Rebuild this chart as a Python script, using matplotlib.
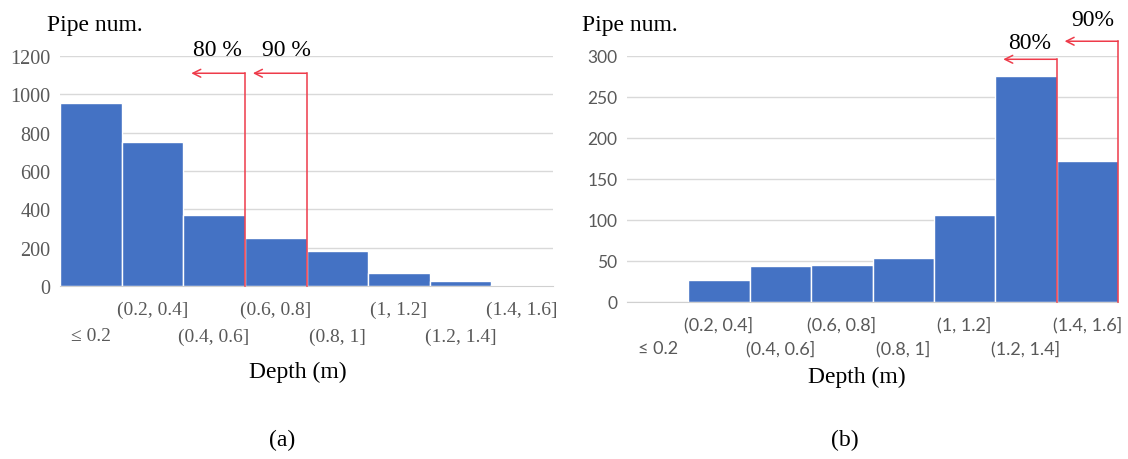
import matplotlib.pyplot as plt

# 数据
bins = ['≤ 0.2', '(0.2, 0.4]', '(0.4, 0.6]', '(0.6, 0.8]', '(0.8, 1]',
        '(1, 1.2]', '(1.2, 1.4]', '(1.4, 1.6]']
pipes_a = [955, 753, 370, 252, 183, 68, 26, 4]
pipes_b = [0, 27, 44, 45, 54, 106, 275, 172]

# 80% / 90% 分界 (bin index of the boundary's right-hand bar)
cut_a = {'80 %': 3, '90 %': 4}
cut_b = {'80%': 7, '90%': 8}

BLUE = '#4472C4'
RED = '#EE3B4A'
GREY = '#595959'
SERIF = 'Liberation Serif'
SANS = 'Lato'

fig = plt.figure(figsize=(11.28, 4.6), dpi=100)
ax1 = fig.add_axes([60/1128, 1-287/460, 493/1128, 230/460])
ax2 = fig.add_axes([627/1128, 1-303/460, 491/1128, 246/460])


def draw(ax, vals, ymax, ystep, tickfont, ysize, xsize, rows, cuts, arr_y, txt_y, txt_off):
    x = range(len(vals))
    ax.bar(x, vals, width=1.0, color=BLUE, edgecolor='white', linewidth=1, zorder=2)
    ax.set_xlim(-0.5, len(vals) - 0.5)
    ax.set_ylim(0, ymax)
    ax.set_yticks(range(0, ymax + 1, ystep))
    ax.grid(axis='y', color='#D9D9D9', linewidth=1, zorder=0)
    for s in ['top', 'right', 'left']:
        ax.spines[s].set_visible(False)
    ax.spines['bottom'].set_color('#D0D0D0')
    ax.set_xticks([])
    ax.tick_params(axis='y', length=0, pad=7, labelcolor=GREY)
    for lab in ax.get_yticklabels():
        lab.set_fontfamily(tickfont)
        lab.set_fontsize(ysize)
    # 错行的x标签
    for i, b in enumerate(bins):
        off = rows[0] if i % 2 == 1 else rows[1]
        ax.annotate(b, xy=(i, 0), xycoords=('data', 'axes fraction'),
                    xytext=(0, -off), textcoords='offset points',
                    ha='center', va='center', color=GREY,
                    family=tickfont, fontsize=xsize)
    # 红色分界线
    for k, (name, idx) in enumerate(cuts.items()):
        xb = idx - 0.5
        ax.plot([xb, xb], [0, arr_y[k]], color=RED, lw=1.1, clip_on=False, zorder=3)
        ax.annotate('', xy=(xb - 0.87, arr_y[k]), xytext=(xb, arr_y[k]),
                    arrowprops=dict(arrowstyle='->', color=RED, lw=1.1,
                                    mutation_scale=14, shrinkA=0, shrinkB=0),
                    annotation_clip=False)
        ax.text(xb + txt_off[k], txt_y[k], name, ha='center', va='center',
                family=SERIF, fontsize=17, clip_on=False)


draw(ax1, pipes_a, 1200, 200, SERIF, 14.5, 14, (16.5, 36), cut_a,
     [1110, 1110], [1236, 1236], [-0.44, -0.32])
draw(ax2, pipes_b, 300, 50, SANS, 12.5, 13, (16, 33), cut_b,
     [296, 318], [317, 345], [-0.44, -0.41])

# 轴标题
fig.text(95/1128, 1-25/460, 'Pipe num.', ha='center', va='center', family=SERIF, fontsize=17)
fig.text(630/1128, 1-25/460, 'Pipe num.', ha='center', va='center', family=SERIF, fontsize=17)
fig.text(298/1128, 1-372/460, 'Depth (m)', ha='center', va='center', family=SERIF, fontsize=17)
fig.text(857/1128, 1-377/460, 'Depth (m)', ha='center', va='center', family=SERIF, fontsize=17)
fig.text(282/1128, 1-440/460, '(a)', ha='center', va='center', family=SERIF, fontsize=17)
fig.text(845/1128, 1-440/460, '(b)', ha='center', va='center', family=SERIF, fontsize=17)

fig.savefig('out.png', dpi=100)
